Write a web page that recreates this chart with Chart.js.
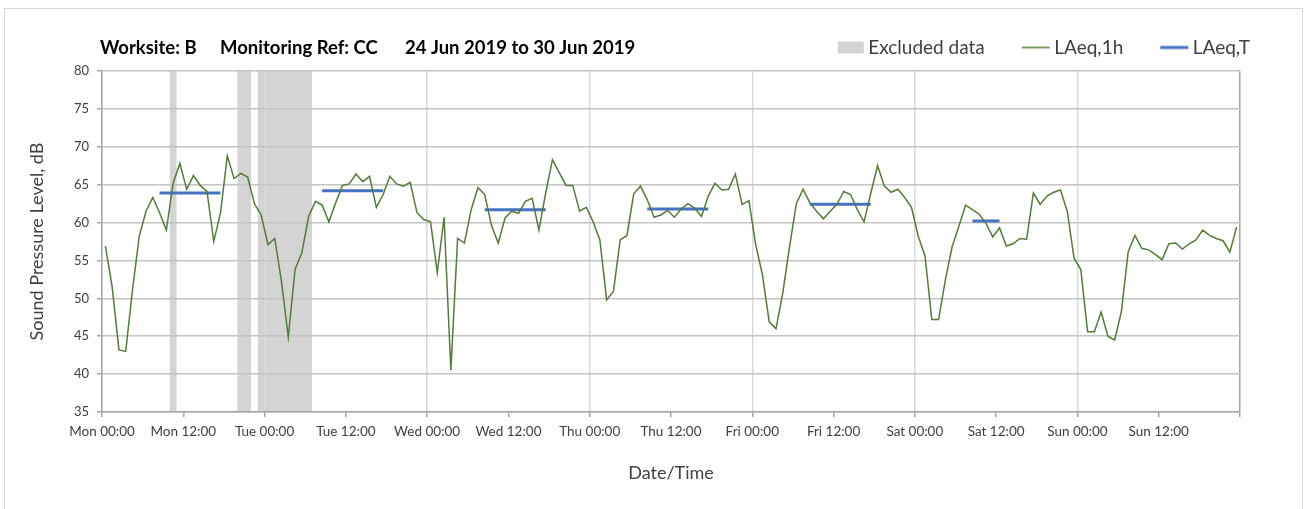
<!DOCTYPE html>
<html>
<head>
<meta charset="utf-8">
<title>Worksite B noise monitoring</title>
<script src="https://cdn.jsdelivr.net/npm/chart.js@4/dist/chart.umd.min.js"></script>
<style>
  html, body { margin: 0; padding: 0; background: #ffffff; }
  canvas { display: block; }
</style>
</head>
<body>
<canvas id="noiseChart" width="1306" height="509"></canvas>
<script>
// hourly LAeq,1h values, one array per day (00:00 .. 23:00)
const mon = [56.9, 51.5, 43.2, 43.0, 51.1, 58.2, 61.5, 63.3, 61.3, 59.0, 65.2, 67.8, 64.4, 66.2, 64.9, 64.1, 57.5, 61.3, 68.8, 65.8, 66.5, 66.0, 62.5, 61.0];
const tue = [57.1, 57.9, 52.2, 44.9, 53.8, 56.0, 60.8, 62.8, 62.3, 60.1, 62.6, 64.9, 65.1, 66.4, 65.4, 66.1, 62.0, 63.7, 66.1, 65.1, 64.8, 65.3, 61.3, 60.4];
const wed = [60.1, 53.4, 60.7, 40.5, 57.9, 57.3, 61.7, 64.6, 63.7, 59.6, 57.3, 60.6, 61.5, 61.2, 62.8, 63.2, 59.0, 63.9, 68.3, 66.6, 64.9, 64.9, 61.5, 62.0];
const thu = [60.1, 57.7, 49.8, 50.9, 57.7, 58.3, 63.8, 64.8, 63.0, 60.7, 61.0, 61.6, 60.7, 61.8, 62.5, 61.9, 60.8, 63.5, 65.2, 64.3, 64.4, 66.4, 62.4, 62.9];
const fri = [57.1, 53.1, 46.9, 46.0, 50.7, 56.8, 62.5, 64.4, 62.6, 61.5, 60.5, 61.5, 62.4, 64.1, 63.7, 61.7, 60.1, 63.9, 67.5, 64.8, 64.0, 64.4, 63.3, 62.0];
const sat = [58.2, 55.6, 47.2, 47.2, 52.4, 56.8, 59.5, 62.3, 61.7, 61.1, 59.9, 58.1, 59.3, 56.9, 57.2, 57.9, 57.8, 63.9, 62.4, 63.5, 64.0, 64.3, 61.5, 55.3];
const sun = [53.8, 45.6, 45.6, 48.2, 45.0, 44.5, 48.3, 56.2, 58.3, 56.6, 56.4, 55.8, 55.1, 57.2, 57.3, 56.5, 57.2, 57.7, 59.0, 58.3, 57.9, 57.6, 56.1, 59.4];

// LAeq,T over the working periods (hours from Mon 00:00)
const periodStart = [8, 32, 56, 80, 104, 128];
const periodEnd = [18, 42, 66, 90, 114, 133];
const periodLevel = [63.9, 64.2, 61.7, 61.8, 62.4, 60.2];

// excluded data (hours from Mon 00:00)
const excludedStart = [10, 20, 23];
const excludedEnd = [11, 22, 31];

const tickLabels = ['Mon 00:00', 'Mon 12:00', 'Tue 00:00', 'Tue 12:00', 'Wed 00:00', 'Wed 12:00',
  'Thu 00:00', 'Thu 12:00', 'Fri 00:00', 'Fri 12:00', 'Sat 00:00', 'Sat 12:00', 'Sun 00:00', 'Sun 12:00', ''];

const titleParts = ['Worksite: B', 'Monitoring Ref: CC', '24 Jun 2019 to 30 Jun 2019'];

const FONT = 'Lato';
const TEXT = '#404040';
const GREEN = '#537b39';
const BLUE = '#4472c4';
const GREY_BAND = '#d4d4d4';

// hourly values are plotted at the middle of each hour
const hourly = [mon, tue, wed, thu, fri, sat, sun].flat().map((v, i) => ({ x: i + 0.5, y: v }));

const periods = [];
periodLevel.forEach((lvl, i) => {
    periods.push({ x: periodStart[i] + 0.5, y: lvl });
    periods.push({ x: periodEnd[i] - 0.5, y: lvl });
    periods.push({ x: periodEnd[i], y: null });
});

// legend symbols, drawn at the right end of their box so they sit close to the text
const ICON_W = 50;
function makeIcon(draw) {
    const c = document.createElement('canvas');
    c.width = ICON_W + 12;
    c.height = 16;
    draw(c.getContext('2d'), c.width);
    return c;
}
const legendIcons = [
    makeIcon((g, w) => { g.fillStyle = GREY_BAND; g.fillRect(w - 27, 2, 26, 12); }),
    makeIcon((g, w) => { g.fillStyle = GREEN; g.fillRect(w - 29, 7.25, 28, 1.5); }),
    makeIcon((g, w) => { g.fillStyle = BLUE; g.fillRect(w - 29, 6.5, 28, 3); })
];

const backgroundPlugin = {
    id: 'background',
    beforeDraw(chart) {
        const { ctx, chartArea } = chart;
        const x = chart.scales.x;
        ctx.save();
        ctx.strokeStyle = '#d9d9d9';
        ctx.lineWidth = 1;
        ctx.strokeRect(4.5, 8.5, chart.width - 8, chart.height + 20);
        ctx.fillStyle = GREY_BAND;
        excludedStart.forEach((s, i) => {
            const x0 = x.getPixelForValue(s);
            const x1 = x.getPixelForValue(excludedEnd[i]);
            ctx.fillRect(x0, chartArea.top, x1 - x0, chartArea.bottom - chartArea.top);
        });
        ctx.restore();
    },
    afterDraw(chart) {
        const ctx = chart.ctx;
        const xs = [100, 220, 405];
        ctx.save();
        ctx.font = 'bold 18.5px ' + FONT;
        ctx.fillStyle = '#000000';
        ctx.textBaseline = 'middle';
        titleParts.forEach((t, i) => ctx.fillText(t, xs[i], 48));
        ctx.restore();
    }
};

const ctx = document.getElementById('noiseChart');
new Chart(ctx, {
    type: 'line',
    data: {
        datasets: [{
            label: 'Excluded data',
            data: [],
            pointRadius: 0
        }, {
            label: 'LAeq,1h',
            data: hourly,
            borderColor: GREEN,
            borderWidth: 1.5,
            pointRadius: 0,
            tension: 0
        }, {
            label: 'LAeq,T',
            data: periods,
            borderColor: BLUE,
            borderWidth: 3,
            pointRadius: 0,
            spanGaps: false
        }]
    },
    options: {
        responsive: false,
        animation: false,
        layout: { padding: { left: 4, right: 46, top: 28, bottom: 0 } },
        plugins: {
            title: { display: false },
            tooltip: { enabled: false },
            legend: {
                position: 'top',
                align: 'end',
                labels: {
                    usePointStyle: true,
                    pointStyleWidth: ICON_W,
                    padding: 10,
                    color: TEXT,
                    font: { family: FONT, size: 19 },
                    generateLabels: chart => chart.data.datasets.map((ds, i) => ({
                        text: ds.label,
                        pointStyle: legendIcons[i],
                        datasetIndex: i,
                        lineWidth: 0,
                        fontColor: TEXT
                    }))
                }
            }
        },
        scales: {
            x: {
                type: 'linear',
                min: 0,
                max: 168,
                afterFit: s => { s.height = 97; },
                afterBuildTicks: s => { s.ticks = tickLabels.map((t, i) => ({ value: i * 12 })); },
                ticks: {
                    autoSkip: false,
                    maxRotation: 0,
                    padding: 7,
                    color: TEXT,
                    font: { family: FONT, size: 13.5 },
                    callback: v => tickLabels[v / 12]
                },
                grid: {
                    color: c => c.tick.value === 168 ? '#a6a6a6' : (c.tick.value % 24 === 0 ? '#d9d9d9' : 'rgba(0,0,0,0)'),
                    lineWidth: 1.5,
                    tickColor: '#a6a6a6',
                    tickLength: 5
                },
                border: { color: '#a6a6a6', width: 1.5 },
                title: {
                    display: true,
                    text: 'Date/Time',
                    color: TEXT,
                    font: { family: FONT, size: 18 },
                    padding: { top: 0, bottom: 25 }
                }
            },
            // keeps a little room between the legend row and the plot
            xTop: {
                type: 'linear',
                axis: 'x',
                position: 'top',
                afterFit: s => { s.height = 4; },
                grid: { display: false },
                border: { display: false },
                ticks: { display: false }
            },
            y: {
                min: 35,
                max: 80,
                afterFit: s => { s.width = 98; },
                ticks: {
                    stepSize: 5,
                    padding: 8,
                    color: TEXT,
                    font: { family: FONT, size: 13 }
                },
                grid: {
                    color: '#c4c4c4',
                    lineWidth: 1.5,
                    tickColor: '#a6a6a6',
                    tickLength: 5
                },
                border: { color: '#a6a6a6', width: 1.5 },
                title: {
                    display: true,
                    text: 'Sound Pressure Level, dB',
                    color: TEXT,
                    font: { family: FONT, size: 18 },
                    padding: { top: 22, bottom: 0 }
                }
            },
            // room on the right so the legend can reach past the plot edge
            y2: {
                position: 'right',
                afterFit: s => { s.width = 20; },
                grid: { display: false },
                border: { display: false },
                ticks: { display: false }
            }
        }
    },
    plugins: [backgroundPlugin]
});
</script>
</body>
</html>
